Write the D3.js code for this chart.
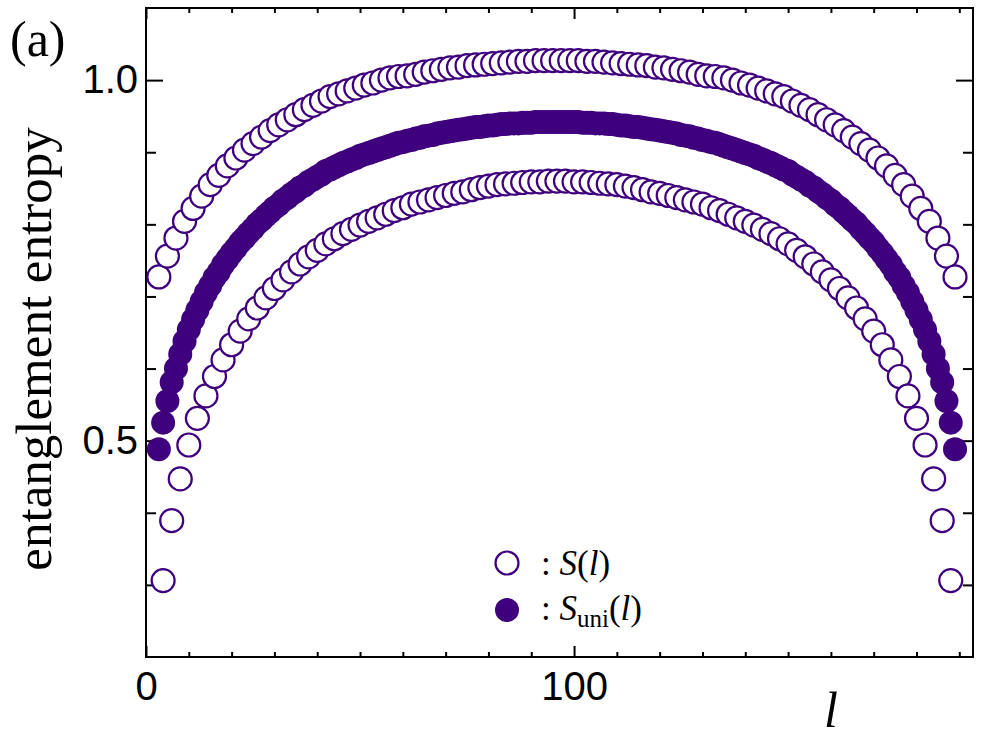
<!DOCTYPE html>
<html><head><meta charset="utf-8">
<script src="https://cdn.jsdelivr.net/npm/d3@7"></script>
<style>body{margin:0;background:#fff} svg{display:block}</style>
</head><body>
<svg id="chart" width="984" height="750"></svg>
<script>
// ---- data ----
// S(l), odd l = 3,5,...,189 (upper branch)
const sOddValues = [
 .727,.756,.781,.804,.822,.839,.855,.868,.881,.892,
 .903,.912,.921,.930,.938,.945,.952,.959,.965,.971,
 .977,.981,.985,.989,.993,.996,1.000,1.003,1.005,1.006,
 1.008,1.011,1.013,1.015,1.017,1.018,1.020,1.021,1.022,1.023,
 1.024,1.025,1.026,1.026,1.027,1.027,1.027,
 1.027,1.027,1.027,1.026,1.026,1.025,1.024,
 1.023,1.022,1.021,1.020,1.018,1.017,1.015,1.013,1.011,1.008,
 1.006,1.005,1.003,1.000,.996,.993,.989,.985,.981,.977,
 .971,.965,.959,.952,.945,.938,.930,.921,.912,.903,
 .892,.881,.868,.855,.839,.822,.804,.781,.756,.727
];
// S(l), even l = 4,6,...,188 (lower branch)
const sEvenValues = [
 .306,.389,.447,.494,.531,.562,.589,.612,.633,.652,
 .669,.684,.698,.711,.723,.734,.745,.755,.764,.773,
 .780,.787,.793,.799,.804,.809,.814,.819,.823,.828,
 .831,.834,.837,.840,.843,.845,.848,.851,.853,.855,
 .856,.857,.858,.859,.859,.860,.860,
 .860,.859,.859,.858,.857,.856,
 .855,.853,.851,.848,.845,.843,.840,.837,.834,.831,
 .828,.823,.819,.814,.809,.804,.799,.793,.787,.780,
 .773,.764,.755,.745,.734,.723,.711,.698,.684,.669,
 .652,.633,.612,.589,.562,.531,.494,.447,.389,.306
];
// S_uni(l), l = 3,...,189
const sUniValues = [
 .488,.525,.555,.581,.600,.620,.638,.654,.668,.681,
 .693,.705,.715,.726,.734,.744,.752,.760,.767,.775,
 .781,.788,.794,.801,.806,.812,.817,.823,.827,.833,
 .837,.842,.846,.851,.854,.859,.862,.866,.869,.874,
 .876,.879,.882,.885,.887,.890,.892,.895,.897,.899,
 .901,.903,.905,.907,.909,.911,.913,.914,.916,.917,
 .919,.920,.922,.923,.924,.926,.927,.928,.929,.930,
 .931,.932,.933,.934,.935,.935,.936,.937,.937,.938,
 .939,.939,.940,.940,.940,.941,.941,.941,.942,.942,
 .942,.942,.942,.942,
 .942,.942,.942,.942,.942,.941,.941,.941,.940,.940,
 .940,.939,.939,.938,.937,.937,.936,.935,.935,.934,
 .933,.932,.931,.930,.929,.928,.927,.926,.924,.923,
 .922,.920,.919,.917,.916,.914,.913,.911,.909,.907,
 .905,.903,.901,.899,.897,.895,.892,.890,.887,.885,
 .882,.879,.876,.874,.869,.866,.862,.859,.854,.851,
 .846,.842,.837,.833,.827,.823,.817,.812,.806,.801,
 .794,.788,.781,.775,.767,.760,.752,.744,.734,.726,
 .715,.705,.693,.681,.668,.654,.638,.620,.600,.581,
 .555,.525,.488
];
const lOdd = d3.range(3, 190, 2);
const lEven = d3.range(4, 189, 2);
const lUni = d3.range(3, 190);
const xMajorTicks = [0, 100];
const xTickLabels = ["0", "100"];
const yMajorTicks = [0.5, 1.0];
const yTickLabels = ["0.5", "1.0"];

// ---- layout ----
const color = "#3f007d";
const L = 146, R = 973, T = 8, B = 657;
const x = d3.scaleLinear().domain([0, 193.2]).range([L, R]);
const y = d3.scaleLinear().domain([0.2, 1.1]).range([B, T]);
const svg = d3.select("#chart");
const sans = "'Liberation Sans', Arial, sans-serif";
const serif = "'Liberation Serif', 'Times New Roman', serif";

const xMinor = d3.range(10, 193, 10).filter(v => !xMajorTicks.includes(v));
const yMinor = d3.range(0.3, 1.1, 0.1).map(v => +v.toFixed(2)).filter(v => !yMajorTicks.includes(v));

function styleAxis(g) {
  g.select(".domain").remove();
  g.selectAll(".tick line").attr("stroke", "#000").attr("stroke-width", 2);
  g.selectAll(".tick text").attr("font-family", sans).attr("font-size", 40).attr("fill", "#000");
}
// bottom
svg.append("g").attr("transform", `translate(0,${B})`)
  .call(d3.axisBottom(x).tickValues(xMinor).tickSize(-5).tickFormat("")).call(styleAxis);
svg.append("g").attr("transform", `translate(0,${B})`)
  .call(d3.axisBottom(x).tickValues(xMajorTicks).tickSize(-11).tickPadding(15)
    .tickFormat((d, i) => xTickLabels[i])).call(styleAxis);
// top
svg.append("g").attr("transform", `translate(0,${T})`)
  .call(d3.axisTop(x).tickValues(xMinor).tickSize(-5).tickFormat("")).call(styleAxis);
svg.append("g").attr("transform", `translate(0,${T})`)
  .call(d3.axisTop(x).tickValues(xMajorTicks).tickSize(-11).tickFormat("")).call(styleAxis);
// left
svg.append("g").attr("transform", `translate(${L},0)`)
  .call(d3.axisLeft(y).tickValues(yMinor).tickSize(-10).tickFormat("")).call(styleAxis);
svg.append("g").attr("transform", `translate(${L},0)`)
  .call(d3.axisLeft(y).tickValues(yMajorTicks).tickSize(-17).tickPadding(8)
    .tickFormat((d, i) => yTickLabels[i])).call(styleAxis);
// right
svg.append("g").attr("transform", `translate(${R},0)`)
  .call(d3.axisRight(y).tickValues(yMinor).tickSize(-10).tickFormat("")).call(styleAxis);
svg.append("g").attr("transform", `translate(${R},0)`)
  .call(d3.axisRight(y).tickValues(yMajorTicks).tickSize(-17).tickFormat("")).call(styleAxis);

// frame
svg.append("rect").attr("x", L).attr("y", T).attr("width", R - L).attr("height", B - T)
  .attr("fill", "none").attr("stroke", "#000").attr("stroke-width", 2);

// ---- marks ----
const uni = lUni.map((l, i) => ({l, v: sUniValues[i]}));
const odd = lOdd.map((l, i) => ({l, v: sOddValues[i]}));
const even = lEven.map((l, i) => ({l, v: sEvenValues[i]}));

svg.append("g").selectAll("circle").data(uni).join("circle")
  .attr("cx", d => x(d.l)).attr("cy", d => y(d.v)).attr("r", 12).attr("fill", color);

function openSeries(data) {
  svg.append("g").selectAll("circle").data(data).join("circle")
    .attr("cx", d => x(d.l)).attr("cy", d => y(d.v)).attr("r", 11.5)
    .attr("fill", "#fff").attr("stroke", color).attr("stroke-width", 2.2);
}
openSeries(odd);
openSeries(even);

// ---- texts ----
svg.append("text").attr("x", 10).attr("y", 56).attr("font-family", serif)
  .attr("font-size", 50).text("(a)");

svg.append("text").attr("transform", "translate(51,349) rotate(-90)")
  .attr("text-anchor", "middle").attr("font-family", serif).attr("font-size", 51)
  .text("entanglement entropy");

svg.append("text").attr("x", 831).attr("y", 727).attr("text-anchor", "middle")
  .attr("font-family", serif).attr("font-size", 50).attr("font-style", "italic").text("l");

// legend
svg.append("circle").attr("cx", 507).attr("cy", 563).attr("r", 11.5)
  .attr("fill", "#fff").attr("stroke", color).attr("stroke-width", 2.2);
svg.append("circle").attr("cx", 507).attr("cy", 610).attr("r", 12).attr("fill", color);

const t1 = svg.append("text").attr("x", 541).attr("y", 575)
  .attr("font-family", serif).attr("font-size", 35).attr("xml:space", "preserve");
t1.append("tspan").text(": ");
t1.append("tspan").attr("font-style", "italic").text("S");
t1.append("tspan").text("(");
t1.append("tspan").attr("font-style", "italic").text("l");
t1.append("tspan").text(")");

const t2 = svg.append("text").attr("x", 541).attr("y", 620)
  .attr("font-family", serif).attr("font-size", 35).attr("xml:space", "preserve");
t2.append("tspan").text(": ");
t2.append("tspan").attr("font-style", "italic").text("S");
t2.append("tspan").attr("font-size", 25).attr("dy", 7).text("uni");
t2.append("tspan").attr("dy", -7).text("(");
t2.append("tspan").attr("font-style", "italic").text("l");
t2.append("tspan").text(")");
</script>
</body></html>
